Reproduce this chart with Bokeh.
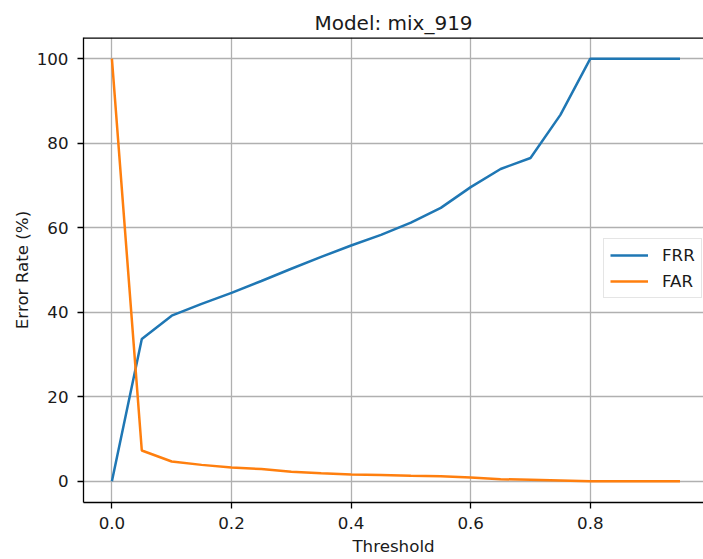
from bokeh.plotting import figure
from bokeh.models import FixedTicker, Range1d, Legend, LegendItem, Span
from bokeh.embed import file_html
from bokeh.resources import INLINE

# ---- data ----
thresholds = [0.0, 0.05, 0.10, 0.15, 0.20, 0.25, 0.30, 0.35, 0.40, 0.45,
              0.50, 0.55, 0.60, 0.65, 0.70, 0.75, 0.80, 0.85, 0.90, 0.95]
frr = [0.0, 33.7, 39.2, 42.0, 44.6, 47.4, 50.3, 53.1, 55.8, 58.3,
       61.2, 64.7, 69.6, 73.9, 76.5, 86.7, 100.0, 100.0, 100.0, 100.0]
far = [100.0, 7.3, 4.7, 3.9, 3.3, 2.9, 2.3, 1.9, 1.6, 1.5,
       1.3, 1.2, 0.9, 0.5, 0.4, 0.2, 0.0, 0.0, 0.0, 0.0]
x_ticks = [0.0, 0.2, 0.4, 0.6, 0.8]
x_tick_labels = ["0.0", "0.2", "0.4", "0.6", "0.8"]
y_ticks = [0, 20, 40, 60, 80, 100]
y_tick_labels = ["0", "20", "40", "60", "80", "100"]
series_names = ["FRR", "FAR"]
series_colors = ["#1f77b4", "#ff7f0e"]

FONT = "DejaVu Sans"
TXT = "#1a1a1a"
Y_MIN, Y_MAX = -5, 105

p = figure(width=703, height=559, output_backend="svg", toolbar_location=None,
           x_range=Range1d(-0.0475, 0.9893), y_range=Range1d(Y_MIN, Y_MAX),
           title="Model: mix_919")
p.min_border_left = 83
p.min_border_right = 0
p.min_border_top = 37
p.min_border_bottom = 57
p.background_fill_color = "white"
p.border_fill_color = "white"
p.outline_line_color = None

p.title.text_font = FONT
p.title.text_font_size = "20px"
p.title.text_font_style = "normal"
p.title.text_color = TXT
p.title.align = "center"
p.title.standoff = 5
p.title.offset = 1

for ax in (p.xaxis[0], p.yaxis[0]):
    ax.axis_line_color = "black"
    ax.axis_line_width = 1.3
    ax.major_tick_line_color = "black"
    ax.major_tick_line_width = 1.3
    ax.major_tick_out = 6
    ax.major_tick_in = 0
    ax.minor_tick_line_color = None
    ax.major_label_text_font = FONT
    ax.major_label_text_font_size = "16.7px"
    ax.major_label_text_color = TXT
    ax.axis_label_text_font = FONT
    ax.axis_label_text_font_size = "16.7px"
    ax.axis_label_text_font_style = "normal"
    ax.axis_label_text_color = TXT

p.xaxis.ticker = FixedTicker(ticks=x_ticks)
p.xaxis.major_label_overrides = dict(zip(x_ticks, x_tick_labels))
p.yaxis.ticker = FixedTicker(ticks=y_ticks)
p.yaxis.major_label_overrides = dict(zip(y_ticks, y_tick_labels))
p.xaxis.axis_label = "Threshold"
p.yaxis.axis_label = "Error Rate (%)"
p.xaxis.major_label_standoff = 8
p.xaxis.axis_label_standoff = 4
p.yaxis.major_label_standoff = 9
p.yaxis.axis_label_standoff = 2

for g in (p.xgrid[0], p.ygrid[0]):
    g.grid_line_color = "#b0b0b0"
    g.grid_line_width = 1.3

# top spine (right spine lies beyond the visible area in the reference)
p.add_layout(Span(location=Y_MAX, dimension="width", line_color="black",
                  line_width=2.4))

r1 = p.line(thresholds, frr, line_color=series_colors[0], line_width=2.5)
r2 = p.line(thresholds, far, line_color=series_colors[1], line_width=2.5)

legend = Legend(items=[LegendItem(label=series_names[0], renderers=[r1]),
                       LegendItem(label=series_names[1], renderers=[r2])],
                location=(520, 204))
legend.label_text_font = FONT
legend.label_text_font_size = "16.7px"
legend.label_text_color = TXT
legend.glyph_width = 38
legend.glyph_height = 20
legend.label_standoff = 14
legend.padding = 6
legend.spacing = 6
legend.margin = 0
legend.border_line_color = "#cccccc"
legend.border_line_width = 1.3
legend.background_fill_alpha = 0.8
p.add_layout(legend, "center")

open("out.html", "w").write(file_html(p, INLINE))
